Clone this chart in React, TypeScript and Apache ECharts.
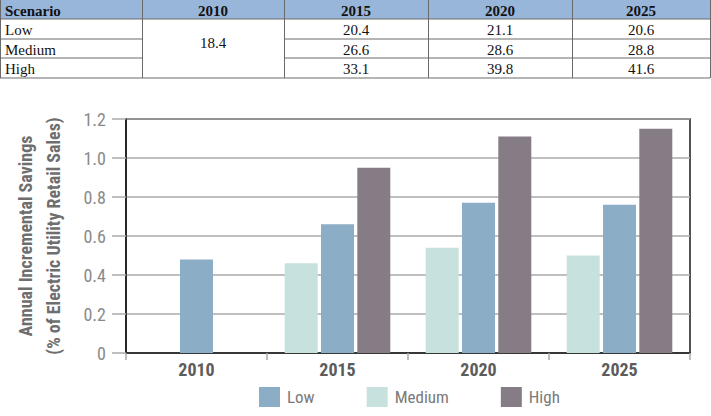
import React, { useEffect, useRef } from "react";
import * as echarts from "echarts";

// ---- chart data ----
const categories = ["2010", "2015", "2020", "2025"];
const lowValues = [0.48, 0.66, 0.77, 0.76];
const mediumValues = [null, 0.46, 0.54, 0.5];
const highValues = [null, 0.95, 1.11, 1.15];
const legendNames = ["Low", "Medium", "High"];
const yAxisTitle = "Annual Incremental Savings\n(% of Electric Utility Retail Sales)";

// ---- table data ----
const tableHeader = ["Scenario", "2010", "2015", "2020", "2025"];
const tableScenarios = ["Low", "Medium", "High"];
const table2010 = "18.4";
const tableLow = ["20.4", "21.1", "20.6"];
const tableMedium = ["26.6", "28.6", "28.8"];
const tableHigh = ["33.1", "39.8", "41.6"];

// ---- layout ----
const colX = [0, 142, 284, 428, 572, 710];
const rowY = [0, 19, 39, 58, 78];
const COLORS = { Low: "#8badc5", Medium: "#c6e1de", High: "#867c86" };
const NARROW = "'Liberation Sans Narrow', 'Roboto Condensed', 'DejaVu Sans Condensed', Roboto, sans-serif";
const SERIF = "'Liberation Serif', 'Times New Roman', serif";

function buildTable(): any[] {
  const els: any[] = [];
  const lineStyle = { stroke: "#6a6a6a", lineWidth: 1 };
  els.push({
    type: "rect",
    shape: { x: colX[0], y: rowY[0], width: colX[5] - colX[0], height: rowY[1] - rowY[0] },
    style: { fill: "#98b5da" },
    silent: true,
  });
  tableHeader.forEach((t, i) => {
    const left = i === 0;
    els.push({
      type: "text",
      x: left ? colX[0] + 5 : (colX[i] + colX[i + 1]) / 2,
      y: (rowY[0] + rowY[1]) / 2 + 1,
      style: {
        text: t,
        font: `bold 15px ${SERIF}`,
        fill: "#111",
        textAlign: left ? "left" : "center",
        textVerticalAlign: "middle",
      },
      silent: true,
    });
  });
  const rows = [tableLow, tableMedium, tableHigh];
  tableScenarios.forEach((s, r) => {
    const cy = (rowY[r + 1] + rowY[r + 2]) / 2 + 1;
    els.push({
      type: "text",
      x: colX[0] + 5,
      y: cy,
      style: { text: s, font: `15px ${SERIF}`, fill: "#111", textAlign: "left", textVerticalAlign: "middle" },
      silent: true,
    });
    rows[r].forEach((v, c) => {
      els.push({
        type: "text",
        x: (colX[c + 2] + colX[c + 3]) / 2,
        y: cy,
        style: { text: v, font: `15px ${SERIF}`, fill: "#111", textAlign: "center", textVerticalAlign: "middle" },
        silent: true,
      });
    });
  });
  els.push({
    type: "text",
    x: (colX[1] + colX[2]) / 2,
    y: 43,
    style: { text: table2010, font: `15px ${SERIF}`, fill: "#111", textAlign: "center", textVerticalAlign: "middle" },
    silent: true,
  });
  [rowY[1], rowY[4]].forEach((y) => {
    els.push({ type: "line", shape: { x1: colX[0], y1: y, x2: colX[5], y2: y }, style: lineStyle, silent: true });
  });
  [rowY[2], rowY[3]].forEach((y) => {
    els.push({ type: "line", shape: { x1: colX[0], y1: y, x2: colX[1], y2: y }, style: lineStyle, silent: true });
    els.push({ type: "line", shape: { x1: colX[2], y1: y, x2: colX[5], y2: y }, style: lineStyle, silent: true });
  });
  colX.forEach((x) => {
    els.push({
      type: "line",
      shape: { x1: x + 0.5, y1: rowY[0], x2: x + 0.5, y2: rowY[4] },
      style: lineStyle,
      silent: true,
    });
  });
  return els;
}

export default function App() {
  const ref = useRef<HTMLDivElement>(null);
  useEffect(() => {
    if (!ref.current) return;
    const chart = echarts.init(ref.current, null, { renderer: "svg" });
    const mk = (name: string, data: (number | null)[]) => ({
      name,
      type: "bar",
      data,
      barWidth: 33,
      barGap: "10%",
      itemStyle: { color: (COLORS as any)[name] },
    });
    chart.setOption({
      animation: false,
      backgroundColor: "#ffffff",
      grid: {
        left: 126,
        right: 21,
        top: 119,
        bottom: 63,
        show: true,
        borderColor: "#1a1a1a",
        borderWidth: 1.5,
        containLabel: false,
      },
      legend: {
        data: legendNames,
        left: 259,
        top: 387,
        padding: 0,
        itemWidth: 21,
        itemHeight: 20,
        itemGap: 52,
        icon: "rect",
        textStyle: { fontFamily: NARROW, fontSize: 17, color: "#7a7a7a", padding: [0, 0, 0, 2] },
      },
      xAxis: {
        type: "category",
        data: categories,
        axisLine: { show: true, lineStyle: { color: "#1a1a1a", width: 1.5 } },
        axisTick: { show: true, length: 7, lineStyle: { color: "#aaaaaa", width: 1.5 } },
        axisLabel: { fontFamily: NARROW, fontSize: 18, fontWeight: "bold", color: "#5c5c5c", margin: 7 },
      },
      yAxis: {
        type: "value",
        min: 0,
        max: 1.2,
        interval: 0.2,
        name: yAxisTitle,
        nameLocation: "middle",
        nameGap: 59,
        nameTextStyle: {
          fontFamily: NARROW,
          fontSize: 18,
          fontWeight: "bold",
          color: "#6e6e6e",
          lineHeight: 28,
        },
        axisLine: { show: true, lineStyle: { color: "#1a1a1a", width: 1.5 } },
        axisTick: { show: true, inside: false, length: 14, lineStyle: { color: "#aaaaaa", width: 1.5 } },
        splitLine: { show: true, lineStyle: { color: "#aaaaaa", width: 1.5 } },
        axisLabel: {
          fontFamily: NARROW,
          fontSize: 18,
          color: "#8a8a8a",
          margin: 20,
          formatter: (v: number) => (v === 0 ? "0" : v.toFixed(1)),
        },
      },
      series: [mk("Medium", mediumValues), mk("Low", lowValues), mk("High", highValues)],
      graphic: buildTable(),
    });
    return () => chart.dispose();
  }, []);
  return (
    <div
      ref={ref}
      style={{ position: "absolute", left: 0, top: 0, width: 711, height: 416, background: "#fff" }}
    />
  );
}
